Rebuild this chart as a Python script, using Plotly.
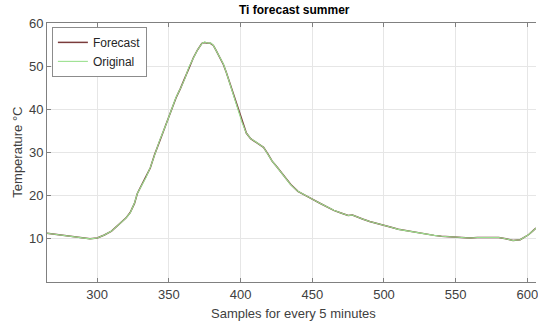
import plotly.graph_objects as go

samples = [265, 270, 275, 280, 285, 290, 295, 300, 305, 310, 315, 320, 323, 326, 328, 331, 334, 337, 340, 344,
           348, 352, 355, 358, 361, 364, 367, 370, 373, 375, 377, 379, 381, 383, 385, 388, 390, 392, 395, 398,
           401, 404, 407, 410, 413, 416, 419, 422, 425, 430, 435, 440, 445, 450, 455, 460, 465, 470, 475, 478,
           480, 485, 490, 495, 500, 505, 510, 515, 520, 525, 530, 535, 540, 545, 550, 555, 560, 565, 570, 575,
           580, 585, 590, 595, 598, 601, 604, 606]
original = [11.3, 11.1, 10.9, 10.6, 10.4, 10.2, 10.0, 10.2, 10.9, 11.8, 13.2, 14.8, 16.0, 18.3, 20.5, 22.3, 24.2, 26.5, 29.5, 33.2,
            36.5, 40.0, 42.8, 44.8, 47.0, 49.8, 52.0, 53.8, 55.2, 55.6, 55.3, 55.4, 54.8, 53.5, 52.3, 50.5, 48.6, 46.5, 43.5, 40.5,
            37.0, 34.5, 33.2, 32.6, 31.8, 31.2, 29.6, 28.0, 26.8, 24.6, 22.5, 21.0, 20.0, 19.2, 18.3, 17.4, 16.6, 16.0, 15.4, 15.5,
            15.2, 14.6, 14.0, 13.6, 13.1, 12.7, 12.2, 11.9, 11.6, 11.3, 11.0, 10.8, 10.6, 10.5, 10.4, 10.3, 10.2, 10.3, 10.3, 10.3,
            10.3, 10.0, 9.6, 9.8, 10.4, 11.0, 11.9, 12.5]
forecast = [11.3, 11.1, 10.8, 10.6, 10.4, 10.2, 10.0, 10.2, 10.9, 11.8, 13.2, 14.8, 16.1, 18.2, 20.5, 22.4, 24.2, 26.4, 29.5, 33.1,
            36.5, 40.1, 42.7, 44.8, 47.1, 49.8, 51.9, 53.8, 55.3, 55.5, 55.3, 55.3, 54.8, 53.6, 52.3, 50.4, 48.6, 46.6, 43.5, 40.4,
            37.1, 34.5, 33.2, 32.5, 31.8, 31.2, 29.7, 28.0, 26.8, 24.6, 22.6, 21.0, 20.0, 19.2, 18.3, 17.4, 16.6, 16.0, 15.4, 15.5,
            15.2, 14.6, 14.0, 13.6, 13.1, 12.7, 12.2, 11.9, 11.6, 11.3, 11.0, 10.8, 10.6, 10.5, 10.4, 10.3, 10.2, 10.3, 10.3, 10.3,
            10.3, 10.0, 9.6, 9.8, 10.4, 11.0, 11.9, 12.5]

x_ticks = [300, 350, 400, 450, 500, 550, 600]
y_ticks = [10, 20, 30, 40, 50, 60]

font = "Liberation Sans, Arial, sans-serif"

fig = go.Figure()
fig.add_trace(go.Scatter(x=samples, y=forecast, mode="lines", name="Forecast",
                         line=dict(color="#7a3b3b", width=1.5)))
fig.add_trace(go.Scatter(x=samples, y=original, mode="lines", name="Original",
                         line=dict(color="#9be08f", width=1.1)))

fig.update_layout(
    width=538, height=324,
    margin=dict(l=47, r=0, t=23, b=42),
    paper_bgcolor="white", plot_bgcolor="white",
    font=dict(family=font, size=13, color="#404040"),
    showlegend=True,
    legend=dict(x=0.01, y=0.985, xanchor="left", yanchor="top",
                bgcolor="white", bordercolor="#8c8c8c", borderwidth=1,
                font=dict(size=12, color="#262626"), tracegroupgap=0,
                itemwidth=30),
    xaxis=dict(range=[265, 606], tickvals=x_ticks, ticks="inside", ticklen=4,
               tickcolor="#808080", showline=True, linecolor="#808080", linewidth=1,
               mirror="ticks", showgrid=True, gridcolor="#e6e6e6", gridwidth=1,
               zeroline=False, tickfont=dict(size=13, color="#404040"),
               ticklabeloverflow="allow"),
    yaxis=dict(range=[0, 60], tickvals=y_ticks, ticks="inside", ticklen=4,
               tickcolor="#808080", showline=True, linecolor="#808080", linewidth=1,
               showgrid=True, gridcolor="#e6e6e6", gridwidth=1,
               zeroline=False, tickfont=dict(size=13, color="#404040")),
    annotations=[
        dict(text="<b>Ti forecast summer</b>", x=0.507, y=1.05, xref="paper", yref="paper",
             showarrow=False, font=dict(size=12, color="black", family=font),
             xanchor="center", yanchor="middle"),
        dict(text="Samples for every 5 minutes", x=0.505, y=-0.12, xref="paper", yref="paper",
             showarrow=False, font=dict(size=13, color="#404040", family=font),
             xanchor="center", yanchor="middle"),
        dict(text="Temperature °C", x=-0.061, y=0.5, xref="paper", yref="paper",
             showarrow=False, textangle=-90, font=dict(size=13, color="#404040", family=font),
             xanchor="center", yanchor="middle"),
    ],
)

fig.write_html("out.html")
